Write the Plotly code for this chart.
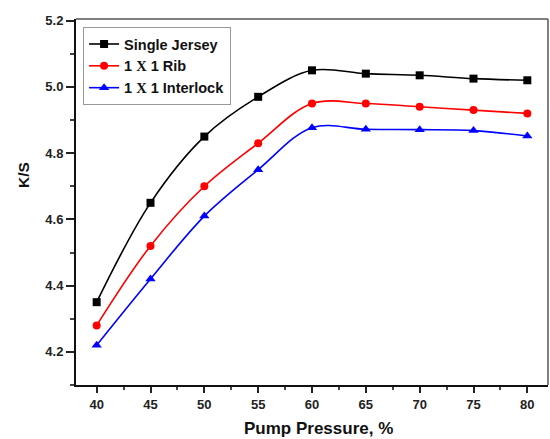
import plotly.graph_objects as go

pressure = [40, 45, 50, 55, 60, 65, 70, 75, 80]
single_jersey = [4.35, 4.65, 4.85, 4.97, 5.05, 5.04, 5.035, 5.025, 5.02]
rib = [4.28, 4.52, 4.70, 4.83, 4.95, 4.95, 4.94, 4.93, 4.92]
interlock = [4.22, 4.42, 4.61, 4.75, 4.877, 4.872, 4.871, 4.868, 4.852]

names = ["Single Jersey",
         "1 <span style='font-family:Liberation Serif'>X</span> 1 Rib",
         "1 <span style='font-family:Liberation Serif'>X</span> 1 Interlock"]
colors = ["#000000", "#ff0000", "#0000ff"]
symbols = ["square", "circle", "triangle-up"]
series = [single_jersey, rib, interlock]

fig = go.Figure()
for n, c, s, y in zip(names, colors, symbols, series):
    fig.add_trace(go.Scatter(
        x=pressure, y=y, name=n, mode="lines+markers",
        line=dict(color=c, width=1.6, shape="spline", smoothing=1.0),
        marker=dict(color=c, symbol=s, size=8 if s != "triangle-up" else 9),
    ))

font = dict(family="Liberation Sans, Arial", size=13, color="#222", weight="bold")
fig.update_layout(
    width=550, height=439,
    margin=dict(l=76, r=2, t=19, b=54),
    plot_bgcolor="white", paper_bgcolor="white",
    font=font,
    showlegend=True,
    legend=dict(x=0.015, y=0.978, xanchor="left", yanchor="top",
                bgcolor="white", bordercolor="#999", borderwidth=1,
                font=dict(family="Liberation Sans, Arial", size=14.5, color="#111", weight="bold"),
                tracegroupgap=0, itemwidth=30),
    xaxis=dict(range=[38.08, 81.92], tickvals=[40, 45, 50, 55, 60, 65, 70, 75, 80],
               ticks="outside", ticklen=6, tickwidth=1.5, tickcolor="#222",
               showline=True, linewidth=2, linecolor="#111", showgrid=False, zeroline=False,
               minor=dict(tickvals=[42.5, 47.5, 52.5, 57.5, 62.5, 67.5, 72.5, 77.5],
                          ticks="outside", ticklen=3, tickcolor="#444")),
    yaxis=dict(range=[4.1, 5.205], tickvals=[4.2, 4.4, 4.6, 4.8, 5.0, 5.2], tickformat=".1f",
               ticks="outside", ticklen=8, tickwidth=1.5, tickcolor="#222",
               showline=True, linewidth=2, linecolor="#111", showgrid=False, zeroline=False,
               minor=dict(tickvals=[4.1, 4.3, 4.5, 4.7, 4.9, 5.1],
                          ticks="outside", ticklen=4, tickcolor="#444")),
    annotations=[
        dict(text="Pump Pressure, %", xref="paper", yref="paper",
             x=(318 - 76) / 472, y=-(429 - 385) / 366, xanchor="center", yanchor="middle",
             showarrow=False, font=dict(size=17, weight="bold", color="#111")),
        dict(text="K/S", xref="paper", yref="paper", textangle=-90,
             x=-(76 - 23) / 472, y=(385 - 175) / 366, xanchor="center", yanchor="middle",
             showarrow=False, font=dict(size=15.5, weight="bold", color="#111")),
    ],
)
fig.add_shape(type="line", xref="paper", yref="paper", x0=0, x1=1, y0=1, y1=1,
              line=dict(color="#555", width=1.5))
fig.add_shape(type="line", xref="paper", yref="paper", x0=1, x1=1, y0=0, y1=1,
              line=dict(color="#555", width=1.5))
fig.write_html("out.html")
